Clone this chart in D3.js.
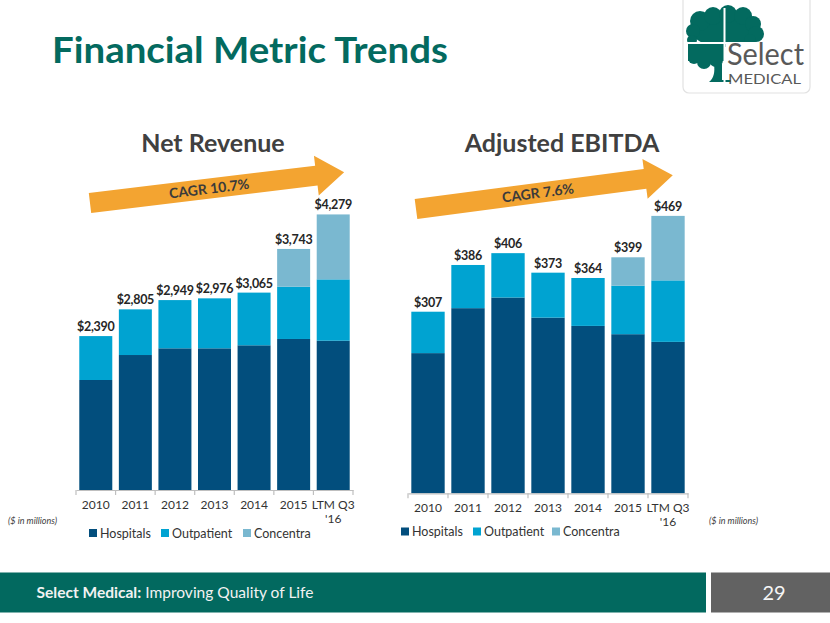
<!DOCTYPE html>
<html>
<head>
<meta charset="utf-8">
<script src="https://cdn.jsdelivr.net/npm/d3@7/dist/d3.min.js"></script>
<style>
  html, body { margin: 0; padding: 0; background: #fff; }
  svg { display: block; }
  text { font-family: Lato, "Open Sans", sans-serif; }
</style>
</head>
<body>
<svg id="chart" width="830" height="623"></svg>
<script>
// ---------- DATA ----------
const years = ["2010", "2011", "2012", "2013", "2014", "2015", "LTM Q3 '16"];
const seriesNames = ["Hospitals", "Outpatient", "Concentra"];

const revHospitals  = [1708, 2096, 2200, 2200, 2247, 2345, 2318];
const revOutpatient = [682, 709, 749, 776, 818, 812, 953];
const revConcentra  = [0, 0, 0, 0, 0, 586, 1008];
const revTotals     = [2390, 2805, 2949, 2976, 3065, 3743, 4279];

const ebHospitals  = [237, 313, 331, 297, 283, 269, 256];
const ebOutpatient = [70, 73, 75, 76, 81, 82, 104];
const ebConcentra  = [0, 0, 0, 0, 0, 48, 109];
const ebTotals     = [307, 386, 406, 373, 364, 399, 469];

const revCagr = "CAGR 10.7%";
const ebCagr = "CAGR 7.6%";

// ---------- STYLE ----------
const colors = { Hospitals: "#024E7D", Outpatient: "#00A3D1", Concentra: "#7AB8D0" };
const teal = "#036A5F";

const svg = d3.select("#chart");

// ---------- Title ----------
svg.append("text")
  .attr("x", 52).attr("y", 63)
  .attr("font-size", 36).attr("font-weight", 700)
  .attr("fill", teal)
  .attr("textLength", 396).attr("lengthAdjust", "spacingAndGlyphs")
  .text("Financial Metric Trends");

// ---------- Logo ----------
const logo = svg.append("g");
logo.append("rect").attr("x", 683).attr("y", -6).attr("width", 127).attr("height", 99)
  .attr("rx", 6).attr("fill", "#fff").attr("stroke", "#e2e2e2").attr("stroke-width", 1.2);
logo.append("ellipse").attr("cx", 724).attr("cy", 30).attr("rx", 33).attr("ry", 17).attr("fill", teal);
const canopyTop = [[700,21,10],[713,16,9],[728,14,9],[743,16,9],[753,24,8],[756,34,8],[693,31,7],[692,40,5],[750,40,6]];
canopyTop.forEach(c => logo.append("circle").attr("cx", c[0]).attr("cy", c[1]).attr("r", c[2]).attr("fill", teal));
const canopyLow = [[697,50,8],[710,52,10],[694,58,6],[704,62,7],[716,60,7]];
canopyLow.forEach(c => logo.append("circle").attr("cx", c[0]).attr("cy", c[1]).attr("r", c[2]).attr("fill", teal));
logo.append("rect").attr("x", 688).attr("y", 43).attr("width", 36).attr("height", 18).attr("fill", teal);
logo.append("path").attr("d", "M714,64 L722,64 L722,80 L731,80 L731,82 L709,82 C714,78 715,72 714,64 Z").attr("fill", teal);
logo.append("rect").attr("x", 725.5).attr("y", 43.5).attr("width", 45).attr("height", 30).attr("fill", "#fff");
logo.append("rect").attr("x", 723.5).attr("y", 8).attr("width", 2).attr("height", 75).attr("fill", "#fff");
logo.append("rect").attr("x", 684).attr("y", 42).attr("width", 80).attr("height", 2).attr("fill", "#fff");
logo.append("text").attr("x", 727).attr("y", 65)
  .attr("font-family", "'Liberation Serif', 'DejaVu Serif', serif").attr("font-size", 30)
  .attr("fill", "#595959").attr("textLength", 77).attr("lengthAdjust", "spacingAndGlyphs").text("Select");
logo.append("text").attr("x", 728).attr("y", 83.5)
  .attr("font-family", "'Liberation Serif', 'DejaVu Serif', serif").attr("font-size", 13.5)
  .attr("fill", "#595959").attr("textLength", 73).attr("lengthAdjust", "spacingAndGlyphs").text("MEDICAL");

// ---------- Chart builder ----------
function drawChart(cfg) {
  const g = svg.append("g");
  const table = years.map((y, i) => ({
    year: y,
    Hospitals: cfg.hosp[i],
    Outpatient: cfg.outp[i],
    Concentra: cfg.conc[i],
    total: cfg.totals[i]
  }));
  const x = d3.scaleBand().domain(years).range(cfg.xRange).paddingInner(0.166).paddingOuter(0.083);
  const y = d3.scaleLinear().domain([0, cfg.yMax]).range([cfg.base, cfg.base - cfg.yMax * cfg.pxPer]);
  const stacked = d3.stack().keys(seriesNames)(table);

  g.selectAll("g.layer").data(stacked).join("g")
    .attr("fill", d => colors[d.key])
    .selectAll("rect").data(d => d).join("rect")
    .attr("x", d => x(d.data.year))
    .attr("y", d => y(d[1]))
    .attr("width", x.bandwidth())
    .attr("height", d => Math.max(0, y(d[0]) - y(d[1])));

  const axis = d3.axisBottom(x).tickSize(0).tickFormat("");
  const ax = g.append("g").attr("transform", `translate(0,${cfg.base})`).call(axis);
  ax.select(".domain").attr("stroke", "#bfbfbf").attr("stroke-width", 1.2);
  const step = x.step();
  const bounds = d3.range(years.length + 1).map(i => cfg.xRange[0] + i * step);
  g.selectAll("line.btick").data(bounds).join("line")
    .attr("x1", d => d).attr("x2", d => d)
    .attr("y1", cfg.base).attr("y2", cfg.base + 5)
    .attr("stroke", "#bfbfbf").attr("stroke-width", 1.2);

  years.forEach(yr => {
    const cx = x(yr) + x.bandwidth() / 2;
    const parts = yr.startsWith("LTM") ? ["LTM Q3", "'16"] : [yr];
    parts.forEach((p, k) => {
      g.append("text").attr("x", cx).attr("y", cfg.base + 19 + k * 14)
        .attr("text-anchor", "middle").attr("font-size", 12).attr("fill", "#333")
        .text(p);
    });
  });

  g.selectAll("text.val").data(table).join("text")
    .attr("x", d => x(d.year) + x.bandwidth() / 2)
    .attr("y", d => y(d.total) - 5)
    .attr("text-anchor", "middle").attr("font-size", 12.5).attr("font-weight", 700)
    .attr("letter-spacing", -0.3)
    .attr("fill", "#262626")
    .text(d => "$" + d3.format(",")(d.total));

  g.append("text").attr("x", cfg.titleX).attr("y", 152).attr("text-anchor", "middle")
    .attr("font-size", 25).attr("font-weight", 700).attr("fill", "#404040").text(cfg.title);

  const a = cfg.arrow;
  const L = a.len, hb = 10, hw = 20, hl = 28;
  const pts = [[0,-hb],[L-hl,-hb],[L-hl,-hw],[L,0],[L-hl,hw],[L-hl,hb],[0,hb]];
  const ag = g.append("g").attr("transform", `translate(${a.x},${a.y}) rotate(${a.angle})`);
  ag.append("polygon").attr("points", pts.map(p => p.join(",")).join(" ")).attr("fill", "#F3A431");
  ag.append("text").attr("x", a.textPos).attr("y", 5).attr("text-anchor", "middle")
    .attr("font-size", 14).attr("font-weight", 700).attr("fill", "#3b3b3b").text(cfg.cagr);

  cfg.legendOffsets.forEach((off, i) => {
    const name = seriesNames[i];
    g.append("rect").attr("x", cfg.legendX + off).attr("y", cfg.legendY - 4)
      .attr("width", 8).attr("height", 8).attr("fill", colors[name]);
    g.append("text").attr("x", cfg.legendX + off + 11).attr("y", cfg.legendY + 4.5)
      .attr("font-size", 12.5).attr("fill", "#333").text(name);
  });

  g.append("text").attr("x", cfg.noteX).attr("y", 523.5)
    .attr("font-size", 9).attr("font-style", "italic").attr("fill", "#404040").text("($ in millions)");
}

drawChart({
  hosp: revHospitals, outp: revOutpatient, conc: revConcentra, totals: revTotals,
  xRange: [76, 353], base: 490, yMax: 4600, pxPer: 0.0644,
  title: "Net Revenue", titleX: 213,
  cagr: revCagr,
  arrow: { x: 90, y: 203, len: 256, angle: -6.9, textPos: 120 },
  legendX: 89, legendY: 533, legendOffsets: [0, 72, 154],
  noteX: 8
});

drawChart({
  hosp: ebHospitals, outp: ebOutpatient, conc: ebConcentra, totals: ebTotals,
  xRange: [408, 688], base: 493.3, yMax: 500, pxPer: 0.5915,
  title: "Adjusted EBITDA", titleX: 562,
  cagr: ebCagr,
  arrow: { x: 416, y: 209, len: 259, angle: -7.5, textPos: 123 },
  legendX: 401, legendY: 531.5, legendOffsets: [0, 72, 151],
  noteX: 709
});

// ---------- Footer ----------
svg.append("rect").attr("x", 0).attr("y", 572.5).attr("width", 706).attr("height", 40).attr("fill", "#02695F");
svg.append("rect").attr("x", 711).attr("y", 572.5).attr("width", 119).attr("height", 40).attr("fill", "#626262");
const ft = svg.append("text").attr("x", 36.5).attr("y", 597.5).attr("font-size", 16).attr("fill", "#f2f2f2")
  .attr("textLength", 277).attr("lengthAdjust", "spacingAndGlyphs");
ft.append("tspan").attr("font-weight", 700).text("Select Medical:");
ft.append("tspan").text(" Improving Quality of Life");
svg.append("text").attr("x", 774).attr("y", 600).attr("text-anchor", "middle")
  .attr("font-family", "'Liberation Sans', Arial, sans-serif").attr("font-size", 20).attr("fill", "#f5f5f5").text("29");
</script>
</body>
</html>
